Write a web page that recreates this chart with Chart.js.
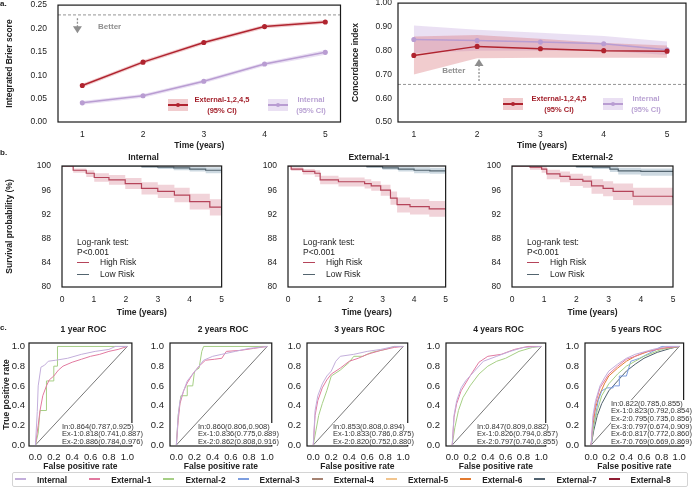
<!DOCTYPE html>
<html>
<head>
<meta charset="utf-8">
<title>Model performance</title>
<script src="https://cdn.jsdelivr.net/npm/chart.js@4.4.1/dist/chart.umd.min.js"></script>
<style>
  body { margin: 0; width: 692px; height: 488px; position: relative; overflow: hidden; background: #fff;
         font-family: "Liberation Sans", Arial, sans-serif; color: #222; }
  canvas { position: absolute; }
  .t { position: absolute; white-space: nowrap; transform: translate(-50%, -50%); line-height: 1; }
  .l { position: absolute; white-space: nowrap; transform: translateY(-50%); line-height: 1; }
  .b { font-weight: bold; }
  .r { position: absolute; }
  .note { position: absolute; background: #fff; font-size: 7.5px; line-height: 7.6px; color: #333; white-space: nowrap; padding-right: 1px; }
  #legend { position: absolute; left: 12px; top: 472px; width: 674px; height: 13px; border: 1px solid #d4d4d4; border-radius: 2px; }
</style>
</head>
<body>
<canvas id="brier" width="346" height="163" style="left:0;top:-11px"></canvas>
<canvas id="cindex" width="346" height="160" style="left:346px;top:-8px"></canvas>
<canvas id="kmInt" width="232" height="172" style="left:0;top:148px"></canvas>
<canvas id="kmEx1" width="220" height="172" style="left:236px;top:148px"></canvas>
<canvas id="kmEx2" width="230" height="172" style="left:462px;top:148px"></canvas>
<canvas id="roc1" width="140" height="160" style="left:0;top:320px"></canvas>
<canvas id="roc2" width="140" height="160" style="left:140px;top:320px"></canvas>
<canvas id="roc3" width="138" height="160" style="left:278px;top:320px"></canvas>
<canvas id="roc4" width="138" height="160" style="left:416px;top:320px"></canvas>
<canvas id="roc5" width="138" height="160" style="left:554px;top:320px"></canvas>
<div id="legend"></div>
<script>
// ---------- data: panel a ----------
const years = [1, 2, 3, 4, 5];
const brierExt = [0.078, 0.128, 0.170, 0.204, 0.214];
const brierExtLo = [0.074, 0.124, 0.166, 0.200, 0.210];
const brierExtHi = [0.082, 0.132, 0.174, 0.208, 0.218];
const brierInt = [0.041, 0.056, 0.087, 0.124, 0.149];
const brierIntLo = [0.037, 0.052, 0.083, 0.120, 0.144];
const brierIntHi = [0.045, 0.060, 0.091, 0.128, 0.154];
const brierRef = 0.229;

const cindexExt = [0.780, 0.818, 0.808, 0.800, 0.798];
const cindexExtLo = [0.700, 0.768, 0.770, 0.770, 0.770];
const cindexExtHi = [0.860, 0.866, 0.850, 0.832, 0.822];
const cindexInt = [0.847, 0.843, 0.836, 0.829, 0.804];
const cindexIntLo = [0.790, 0.800, 0.800, 0.800, 0.782];
const cindexIntHi = [0.906, 0.888, 0.875, 0.862, 0.838];
const cindexRef = 0.658;

// ---------- data: panel b (Kaplan-Meier, %) ----------
const kmIntHighT = [0, 0.35, 0.76, 1.01, 1.47, 1.98, 2.49, 3.0, 3.52, 4.0, 4.63, 5.0];
const kmIntHighS = [100, 99.3, 98.8, 98.1, 97.7, 97.1, 96.3, 95.8, 95.2, 94.1, 93.2, 92.7];
const kmIntHighHi = [100, 99.6, 99.3, 98.8, 98.5, 98.0, 97.3, 96.9, 96.4, 95.4, 94.5, 94.0];
const kmIntHighLo = [100, 98.9, 98.2, 97.4, 96.9, 96.2, 95.3, 94.7, 94.0, 92.8, 91.8, 91.4];
const kmIntLowT = [0, 2.5, 3.0, 3.5, 4.0, 4.5, 5.0];
const kmIntLowS = [100, 99.9, 99.8, 99.7, 99.5, 99.3, 99.1];
const kmIntLowHi = [100, 100, 100, 100, 99.9, 99.8, 99.6];
const kmIntLowLo = [100, 99.7, 99.5, 99.3, 99.1, 98.8, 98.6];

const kmEx1HighT = [0, 0.1, 0.47, 0.85, 1.02, 1.6, 2.43, 2.64, 2.94, 3.25, 3.46, 3.87, 4.48, 5.0];
const kmEx1HighS = [100, 99.5, 99.1, 98.8, 97.7, 97.4, 97.1, 96.7, 96.0, 94.7, 93.6, 93.3, 92.9, 92.6];
const kmEx1HighHi = [100, 99.8, 99.5, 99.3, 98.4, 98.1, 97.8, 97.5, 96.9, 95.8, 94.8, 94.5, 94.2, 94.0];
const kmEx1HighLo = [100, 99.2, 98.6, 98.2, 97.0, 96.6, 96.3, 95.9, 95.1, 93.6, 92.3, 92.0, 91.6, 91.2];
const kmEx1LowT = [0, 2.5, 3.0, 3.5, 4.0, 4.5, 5.0];
const kmEx1LowS = [100, 99.9, 99.7, 99.5, 99.3, 99.2, 99.1];
const kmEx1LowHi = [100, 100, 100, 99.9, 99.8, 99.7, 99.6];
const kmEx1LowLo = [100, 99.7, 99.4, 99.1, 98.8, 98.7, 98.6];

const kmEx2HighT = [0, 0.56, 0.92, 1.08, 1.49, 1.8, 2.2, 2.47, 2.83, 3.14, 3.76, 5.0];
const kmEx2HighS = [100, 99.8, 99.5, 98.7, 98.3, 97.8, 97.5, 96.7, 96.3, 95.8, 95.0, 94.8];
const kmEx2HighHi = [100, 100, 99.9, 99.4, 99.1, 98.7, 98.4, 97.8, 97.5, 97.1, 96.4, 96.2];
const kmEx2HighLo = [100, 99.4, 98.9, 97.8, 97.3, 96.7, 96.4, 95.4, 95.0, 94.4, 93.5, 93.2];
const kmEx2LowT = [0, 2.0, 2.5, 3.04, 3.3, 4.0, 5.0];
const kmEx2LowS = [100, 99.9, 99.8, 99.5, 99.2, 99.1, 99.0];
const kmEx2LowHi = [100, 100, 100, 99.9, 99.7, 99.6, 99.5];
const kmEx2LowLo = [100, 99.7, 99.5, 99.0, 98.6, 98.4, 98.3];

// ---------- data: panel c (ROC, [fpr, tpr]) ----------
const roc1In = [[0,0],[0.02,0.34],[0.03,0.6],[0.06,0.79],[0.1,0.81],[0.14,0.85],[0.22,0.86],[0.35,0.88],[0.5,0.92],[0.65,0.95],[0.8,0.97],[0.87,1],[1,1]];
const roc1Ex1 = [[0,0],[0.03,0.2],[0.05,0.35],[0.08,0.5],[0.12,0.6],[0.15,0.66],[0.2,0.7],[0.25,0.76],[0.3,0.8],[0.4,0.84],[0.5,0.87],[0.6,0.9],[0.7,0.92],[0.8,0.95],[0.9,0.97],[1,1]];
const roc1Ex2 = [[0,0],[0.03,0.12],[0.05,0.35],[0.12,0.35],[0.12,0.65],[0.2,0.65],[0.2,0.8],[0.24,0.8],[0.24,1],[1,1]];

const roc2In = [[0,0],[0.02,0.3],[0.04,0.45],[0.08,0.55],[0.12,0.65],[0.18,0.72],[0.25,0.8],[0.3,0.86],[0.4,0.9],[0.5,0.92],[0.65,0.95],[0.8,0.98],[1,1]];
const roc2Ex1 = [[0,0],[0.02,0.25],[0.04,0.42],[0.08,0.55],[0.12,0.63],[0.18,0.72],[0.25,0.8],[0.32,0.86],[0.42,0.87],[0.5,0.88],[0.55,0.95],[0.7,0.96],[0.85,0.98],[1,1]];
const roc2Ex2 = [[0,0],[0.02,0.3],[0.05,0.5],[0.12,0.5],[0.12,0.6],[0.18,0.6],[0.2,0.75],[0.25,0.78],[0.28,0.95],[0.3,1],[1,1]];

const roc3In = [[0,0],[0.02,0.35],[0.05,0.5],[0.1,0.62],[0.15,0.7],[0.2,0.75],[0.25,0.85],[0.3,0.9],[0.45,0.92],[0.6,0.95],[0.75,0.97],[0.9,1],[1,1]];
const roc3Ex1 = [[0,0],[0.02,0.3],[0.05,0.45],[0.1,0.58],[0.15,0.66],[0.2,0.72],[0.3,0.78],[0.4,0.85],[0.5,0.88],[0.6,0.92],[0.75,0.96],[0.9,0.99],[1,1]];
const roc3Ex2 = [[0,0],[0.03,0.15],[0.06,0.3],[0.1,0.42],[0.15,0.55],[0.2,0.7],[0.3,0.76],[0.4,0.84],[0.45,0.9],[0.55,0.9],[0.65,0.94],[0.8,0.97],[0.9,1],[1,1]];

const roc4In = [[0,0],[0.02,0.3],[0.05,0.45],[0.1,0.58],[0.15,0.65],[0.25,0.75],[0.35,0.85],[0.5,0.9],[0.65,0.95],[0.8,0.99],[1,1]];
const roc4Ex1 = [[0,0],[0.02,0.28],[0.05,0.42],[0.1,0.55],[0.2,0.7],[0.3,0.84],[0.4,0.9],[0.55,0.92],[0.7,0.97],[0.85,1],[1,1]];
const roc4Ex2 = [[0,0],[0.03,0.18],[0.07,0.35],[0.12,0.48],[0.2,0.6],[0.3,0.72],[0.4,0.8],[0.5,0.85],[0.6,0.88],[0.75,0.95],[0.9,0.99],[1,1]];

const roc5In = [[0,0],[0.02,0.3],[0.05,0.45],[0.1,0.6],[0.15,0.68],[0.2,0.75],[0.3,0.82],[0.4,0.88],[0.5,0.92],[0.7,0.97],[0.85,1],[1,1]];
const roc5Ex1 = [[0,0],[0.02,0.25],[0.05,0.42],[0.1,0.58],[0.2,0.72],[0.3,0.8],[0.4,0.87],[0.5,0.9],[0.6,0.94],[0.8,0.98],[1,1]];
const roc5Ex2 = [[0,0],[0.03,0.2],[0.07,0.35],[0.12,0.5],[0.2,0.62],[0.3,0.72],[0.4,0.8],[0.5,0.85],[0.6,0.9],[0.8,0.97],[1,1]];
const roc5Ex3 = [[0,0],[0.02,0.15],[0.05,0.3],[0.08,0.45],[0.12,0.55],[0.18,0.58],[0.25,0.58],[0.25,0.6],[0.32,0.6],[0.32,0.7],[0.4,0.7],[0.45,0.85],[0.55,0.88],[0.7,0.95],[0.8,1],[1,1]];
const roc5Ex6 = [[0,0],[0.02,0.2],[0.05,0.38],[0.1,0.52],[0.15,0.62],[0.2,0.7],[0.3,0.78],[0.4,0.85],[0.5,0.9],[0.65,0.95],[0.8,0.98],[1,1]];
const roc5Ex7 = [[0,0],[0.03,0.15],[0.07,0.3],[0.12,0.42],[0.2,0.55],[0.3,0.65],[0.4,0.75],[0.5,0.82],[0.6,0.88],[0.75,0.94],[0.9,0.98],[1,1]];

const rocTitles = ['1 year ROC', '2 years ROC', '3 years ROC', '4 years ROC', '5 years ROC'];
const rocNotes = [
  ['In:0.864(0.787,0.925)', 'Ex-1:0.818(0.741,0.887)', 'Ex-2:0.886(0.784,0.976)'],
  ['In:0.860(0.806,0.908)', 'Ex-1:0.836(0.775,0.889)', 'Ex-2:0.862(0.808,0.916)'],
  ['In:0.853(0.808,0.894)', 'Ex-1:0.833(0.786,0.875)', 'Ex-2:0.820(0.752,0.880)'],
  ['In:0.847(0.809,0.882)', 'Ex-1:0.826(0.794,0.857)', 'Ex-2:0.797(0.740,0.855)'],
  ['In:0.822(0.785,0.855)', 'Ex-1:0.823(0.792,0.854)', 'Ex-2:0.795(0.735,0.856)',
   'Ex-3:0.797(0.674,0.909)', 'Ex-6:0.817(0.772,0.860)', 'Ex-7:0.769(0.669,0.869)']
];
const cohortNames = ['Internal', 'External-1', 'External-2', 'External-3', 'External-4',
                     'External-5', 'External-6', 'External-7', 'External-8'];

// ---------- colours ----------
const RED = '#b0242f', RED_BAND = 'rgba(214,110,115,0.35)';
const LAV = '#b99dd2', LAV_BAND = 'rgba(195,165,222,0.35)';
const HIGH = '#b5445a', HIGH_BAND = 'rgba(214,130,145,0.35)';
const LOW = '#53646f', LOW_BAND = 'rgba(130,160,180,0.4)';
const cohortColors = ['#c3aedb', '#e27aa0', '#a6cf85', '#7d9ee0', '#a58272',
                      '#f2c58e', '#e37b30', '#50616e', '#8f1d32'];

// ---------- chart defaults ----------
const FONT = '"Liberation Sans", Arial, sans-serif';
Chart.defaults.font.family = FONT;
Chart.defaults.font.size = 8.5;
Chart.defaults.color = '#222';
Chart.defaults.animation = false;
Chart.defaults.plugins.legend.display = false;
Chart.defaults.plugins.tooltip.enabled = false;
Chart.defaults.elements.point.radius = 0;
Chart.defaults.elements.line.tension = 0;

// box around every plot area
Chart.register({
  id: 'frame',
  afterDraw(chart) {
    const a = chart.chartArea, ctx = chart.ctx;
    ctx.save();
    ctx.strokeStyle = '#1a1a1a';
    ctx.lineWidth = 1.2;
    ctx.strokeRect(a.left, a.top, a.right - a.left, a.bottom - a.top);
    ctx.restore();
  }
});

function pts(xs, ys) { return xs.map((x, i) => ({ x: x, y: ys[i] })); }
function pairs(arr) { return arr.map(p => ({ x: p[0], y: p[1] })); }

function lineSet(data, color, extra) {
  return Object.assign({ data: data, borderColor: color, backgroundColor: color,
    borderWidth: 1, pointRadius: 0, fill: false }, extra || {});
}

function bandSets(xs, lo, hi, color, stepped) {
  return [
    { data: pts(xs, lo), borderWidth: 0, pointRadius: 0, fill: false, stepped: !!stepped },
    { data: pts(xs, hi), borderWidth: 0, pointRadius: 0, fill: '-1', backgroundColor: color, stepped: !!stepped }
  ];
}

function axis(min, max, values, opts) {
  const o = opts || {};
  const s = {
    type: 'linear', min: min, max: max,
    grid: { display: false, drawTicks: false },
    border: { display: false },
    afterBuildTicks: sc => { sc.ticks = values.map(v => ({ value: v })); },
    ticks: { padding: o.pad, autoSkip: false, maxRotation: 0,
             font: o.tickSize ? { size: o.tickSize } : undefined,
             callback: v => o.digits !== undefined ? v.toFixed(o.digits) : v },
    title: { display: !!o.title, text: o.title || '', font: { weight: 'bold', size: 8.5 },
             padding: o.titlePad || 0 }
  };
  if (o.width) s.afterFit = sc => { sc.width = o.width; };
  if (o.height) s.afterFit = sc => { sc.height = o.height; };
  return s;
}

// dashed "Better" arrow in panel a
function betterPlugin(ax, y0, y1, tx, ty) {
  return {
    id: 'better',
    afterDatasetsDraw(chart) {
      const ctx = chart.ctx, x = chart.scales.x, y = chart.scales.y;
      const px = x.getPixelForValue(ax), p0 = y.getPixelForValue(y0), p1 = y.getPixelForValue(y1);
      const dir = p1 > p0 ? 1 : -1;
      ctx.save();
      ctx.strokeStyle = '#8e8e8e';
      ctx.fillStyle = '#8e8e8e';
      ctx.lineWidth = 1.3;
      ctx.setLineDash([2, 1.5]);
      ctx.beginPath();
      ctx.moveTo(px, p0);
      ctx.lineTo(px, p1 - dir * 6);
      ctx.stroke();
      ctx.setLineDash([]);
      ctx.beginPath();
      ctx.moveTo(px - 4.5, p1 - dir * 7);
      ctx.lineTo(px + 4.5, p1 - dir * 7);
      ctx.lineTo(px, p1);
      ctx.closePath();
      ctx.fill();
      ctx.font = 'bold 8px ' + FONT;
      ctx.textAlign = 'center';
      ctx.textBaseline = 'middle';
      ctx.fillText('Better', x.getPixelForValue(tx), y.getPixelForValue(ty));
      ctx.restore();
    }
  };
}

// ---------- panel a ----------
function scoreChart(id, xMin, xMax, yMin, yMax, yTicks, ext, extLo, extHi, int, intLo, intHi, ref, title, yW, yPad, padRight, better) {
  new Chart(document.getElementById(id), {
    type: 'line',
    data: { datasets: [
      lineSet(pts(years, ext), RED, { borderWidth: 1.5, pointRadius: 1.8 }),
      lineSet(pts(years, int), LAV, { borderWidth: 1.5, pointRadius: 1.8 }),
      lineSet([{ x: xMin, y: ref }, { x: xMax, y: ref }], '#7a7a7a', { borderWidth: 0.8, borderDash: [3, 2] }),
      ...bandSets(years, extLo, extHi, RED_BAND),
      ...bandSets(years, intLo, intHi, LAV_BAND)
    ] },
    options: {
      responsive: false,
      layout: { padding: { top: 0, right: padRight } },
      scales: {
        x: axis(xMin, xMax, years, { pad: 8, height: 30, title: 'Time (years)', titlePad: { bottom: 1 } }),
        y: axis(yMin, yMax, yTicks, { pad: yPad, width: yW, digits: 2, title: title, titlePad: { top: 4.5 } })
      }
    },
    plugins: [better]
  });
}

scoreChart('brier', 0.6, 5.25, 0, 0.25, [0, 0.05, 0.1, 0.15, 0.2, 0.25],
  brierExt, brierExtLo, brierExtHi, brierInt, brierIntLo, brierIntHi, brierRef,
  'Integrated Brier score', 58, 11, 3, betterPlugin(0.92, 0.222, 0.19, 1.45, 0.204));
scoreChart('cindex', 0.75, 5.3, 0.5, 1.0, [0.5, 0.6, 0.7, 0.8, 0.9, 1.0],
  cindexExt, cindexExtLo, cindexExtHi, cindexInt, cindexIntLo, cindexIntHi, cindexRef,
  'Concordance index', 52, 6, 6, betterPlugin(2.03, 0.672, 0.765, 1.63, 0.716));

// ---------- panel b ----------
function kmChart(id, yW, padRight, showTitle, hT, hS, hHi, hLo, lT, lS, lHi, lLo) {
  new Chart(document.getElementById(id), {
    type: 'line',
    data: { datasets: [
      lineSet(pts(hT, hS), HIGH, { borderWidth: 1.2, stepped: true }),
      lineSet(pts(lT, lS), LOW, { borderWidth: 1.2, stepped: true }),
      ...bandSets(hT, hLo, hHi, HIGH_BAND, true),
      ...bandSets(lT, lLo, lHi, LOW_BAND, true)
    ] },
    options: {
      responsive: false,
      layout: { padding: { top: 18, right: padRight } },
      scales: {
        x: axis(0, 5, [0, 1, 2, 3, 4, 5], { pad: 8, height: 33, title: 'Time (years)', titlePad: { bottom: 2 } }),
        y: axis(80, 100, [80, 84, 88, 92, 96, 100], { pad: 11, width: yW,
             title: showTitle ? 'Survival probability (%)' : '', titlePad: { top: 5 } })
      }
    }
  });
}

kmChart('kmInt', 62, 7, true, kmIntHighT, kmIntHighS, kmIntHighHi, kmIntHighLo, kmIntLowT, kmIntLowS, kmIntLowHi, kmIntLowLo);
kmChart('kmEx1', 52, 6, false, kmEx1HighT, kmEx1HighS, kmEx1HighHi, kmEx1HighLo, kmEx1LowT, kmEx1LowS, kmEx1LowHi, kmEx1LowLo);
kmChart('kmEx2', 50, 19, false, kmEx2HighT, kmEx2HighS, kmEx2HighHi, kmEx2HighLo, kmEx2LowT, kmEx2LowS, kmEx2LowHi, kmEx2LowLo);

// ---------- panel c ----------
const rocCurves = [
  [[roc1In, 0], [roc1Ex1, 1], [roc1Ex2, 2]],
  [[roc2In, 0], [roc2Ex1, 1], [roc2Ex2, 2]],
  [[roc3In, 0], [roc3Ex1, 1], [roc3Ex2, 2]],
  [[roc4In, 0], [roc4Ex1, 1], [roc4Ex2, 2]],
  [[roc5In, 0], [roc5Ex1, 1], [roc5Ex2, 2], [roc5Ex3, 3], [roc5Ex6, 6], [roc5Ex7, 7]]
];
const rocY = [29, 30, 29, 30, 31];
const rocYPad = [4, 6, 6, 6, 6];
const rocPadR = [2, 4, 4, 3, 4];
const rocTicks = [0, 0.2, 0.4, 0.6, 0.8, 1.0];

rocCurves.forEach((curves, k) => {
  const sets = curves.map(c => lineSet(pairs(c[0]), cohortColors[c[1]], { borderWidth: 1 }));
  sets.push(lineSet([{ x: 0, y: 0 }, { x: 1, y: 1 }], '#555', { borderWidth: 0.8 }));
  new Chart(document.getElementById('roc' + (k + 1)), {
    type: 'line',
    data: { datasets: sets },
    options: {
      responsive: false,
      layout: { padding: { top: 23, right: rocPadR[k] } },
      scales: {
        x: axis(-0.07, 1.05, rocTicks, { pad: 6, height: 34, digits: 1, tickSize: 9.5,
             title: 'False positive rate', titlePad: { bottom: 8.5 } }),
        y: axis(-0.01, 1.035, rocTicks, { pad: rocYPad[k], width: rocY[k], digits: 1, tickSize: 9.5,
             title: k === 0 ? 'True positive rate' : '', titlePad: { top: 1.5 } })
      }
    }
  });
});

// ---------- text and legends ----------
function text(s, x, y, cls, style) {
  const d = document.createElement('div');
  d.className = cls;
  d.textContent = s;
  d.style.left = x + 'px';
  d.style.top = y + 'px';
  Object.assign(d.style, style || {});
  document.body.appendChild(d);
  return d;
}
function rect(x, y, w, h, bg, extra) {
  const d = document.createElement('div');
  d.className = 'r';
  Object.assign(d.style, { left: x + 'px', top: y + 'px', width: w + 'px', height: h + 'px', background: bg }, extra || {});
  document.body.appendChild(d);
}

text('a.', 0, 4, 'l b', { fontSize: '8px' });
text('b.', 0, 153, 'l b', { fontSize: '8px' });
text('c.', 0, 328, 'l b', { fontSize: '8px' });

// panel a legends
function scoreLegend(x, y, band, line, label, textX, color) {
  rect(x, y - 6, 20, 12, band);
  rect(x, y - 0.75, 20, 1.5, line);
  rect(x + 8, y - 2, 4, 4, line, { borderRadius: '2px' });
  text(label, textX, y - 5, 't b', { fontSize: '7.5px', color: color });
  text('(95% CI)', textX, y + 5.5, 't b', { fontSize: '7.5px', color: color });
}
scoreLegend(168, 105, RED_BAND, RED, 'External-1,2,4,5', 222, '#a31f2a');
scoreLegend(268, 105, LAV_BAND, LAV, 'Internal', 311, '#b9a2d3');
scoreLegend(503, 104, RED_BAND, RED, 'External-1,2,4,5', 559, '#a31f2a');
scoreLegend(603, 104, LAV_BAND, LAV, 'Internal', 646, '#b9a2d3');

// panel b titles and legends
const kmTitles = ['Internal', 'External-1', 'External-2'];
const kmLeft = [62, 288, 512], kmRight = [225, 450, 673];
kmTitles.forEach((t, i) => {
  text(t, (kmLeft[i] + kmRight[i]) / 2, 157, 't b', { fontSize: '8.5px' });
  const x = kmLeft[i] + 15;
  text('Log-rank test:', x, 242, 'l', { fontSize: '8.5px' });
  text('P<0.001', x, 251.5, 'l', { fontSize: '8.5px' });
  rect(x, 261.5, 12, 1.3, HIGH);
  rect(x, 273.5, 12, 1.3, LOW);
  text('High Risk', x + 23, 262, 'l', { fontSize: '8.5px' });
  text('Low Risk', x + 23, 274, 'l', { fontSize: '8.5px' });
});

// panel c titles and AUC notes
const rocLeft = [29, 170, 307, 446, 585], rocRight = [138, 276, 412, 551, 688];
const noteX = [62, 198, 333, 477, 611];
rocTitles.forEach((t, k) => {
  text(t, (rocLeft[k] + rocRight[k]) / 2, 329, 't b', { fontSize: '8.5px' });
  const n = document.createElement('div');
  n.className = 'note';
  n.innerHTML = rocNotes[k].join('<br>');
  n.style.left = noteX[k] + 'px';
  n.style.top = (445.5 - rocNotes[k].length * 7.6) + 'px';
  document.body.appendChild(n);
});

// shared cohort legend
const lg = document.getElementById('legend');
cohortNames.forEach((name, i) => {
  const x = 2 + i * 74.2;
  const ln = document.createElement('div');
  Object.assign(ln.style, { position: 'absolute', left: Math.round(x) + 'px', top: '5px', width: '11px', height: '2px', background: cohortColors[i] });
  lg.appendChild(ln);
  const tx = document.createElement('div');
  tx.className = 'l b';
  tx.textContent = name;
  Object.assign(tx.style, { left: (x + 22) + 'px', top: '6.5px', fontSize: '8.3px' });
  lg.appendChild(tx);
});
</script>
</body>
</html>
